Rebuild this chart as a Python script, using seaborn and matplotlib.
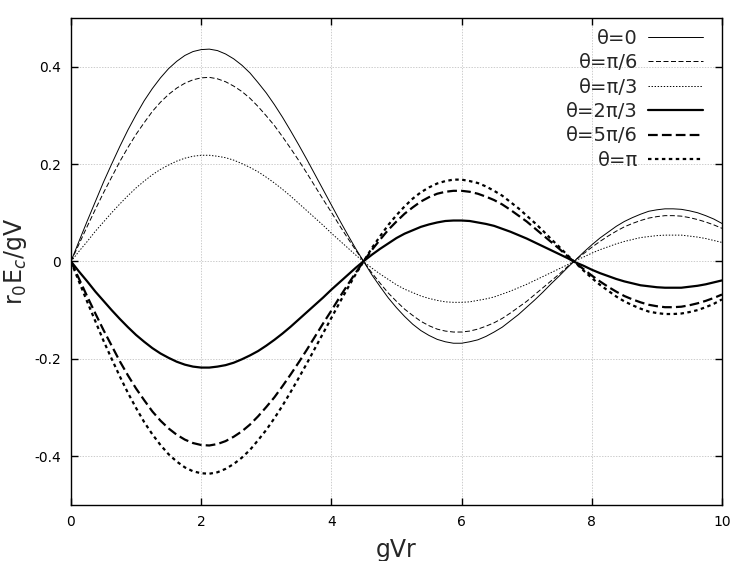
import numpy as np
import pandas as pd
import matplotlib
matplotlib.use("Agg")
import matplotlib.pyplot as plt
import seaborn as sns

# values, x step 0.125 from 0 to 10
gvr = np.linspace(0, 10, 81)

theta_0 = [0, 0.042, 0.083, 0.123, 0.163, 0.200, 0.236, 0.270, 0.301, 0.330,
           0.355, 0.377, 0.396, 0.411, 0.423, 0.431, 0.435, 0.436, 0.433, 0.426,
           0.416, 0.403, 0.387, 0.367, 0.346, 0.322, 0.296, 0.268, 0.239, 0.209,
           0.178, 0.147, 0.116, 0.085, 0.055, 0.026, -0.001, -0.028, -0.052, -0.075,
           -0.095, -0.113, -0.129, -0.142, -0.152, -0.160, -0.165, -0.168, -0.168, -0.165,
           -0.161, -0.154, -0.145, -0.135, -0.122, -0.109, -0.094, -0.079, -0.063, -0.046,
           -0.030, -0.013, 0.003, 0.019, 0.034, 0.048, 0.060, 0.072, 0.082, 0.090,
           0.097, 0.103, 0.106, 0.108, 0.108, 0.107, 0.104, 0.100, 0.094, 0.087, 0.078]
theta_pi6 = [0, 0.036, 0.072, 0.107, 0.141, 0.173, 0.205, 0.234, 0.261, 0.285,
             0.308, 0.327, 0.343, 0.356, 0.366, 0.373, 0.377, 0.378, 0.375, 0.369,
             0.360, 0.349, 0.335, 0.318, 0.299, 0.279, 0.256, 0.232, 0.207, 0.181,
             0.154, 0.127, 0.101, 0.074, 0.048, 0.023, -0.001, -0.024, -0.045, -0.065,
             -0.082, -0.098, -0.111, -0.123, -0.132, -0.139, -0.143, -0.145, -0.145, -0.143,
             -0.139, -0.133, -0.126, -0.117, -0.106, -0.094, -0.082, -0.068, -0.054, -0.040,
             -0.026, -0.011, 0.003, 0.016, 0.029, 0.041, 0.052, 0.062, 0.071, 0.078,
             0.084, 0.089, 0.092, 0.094, 0.094, 0.093, 0.090, 0.086, 0.081, 0.075, 0.068]
theta_pi3 = [0, 0.021, 0.041, 0.062, 0.081, 0.100, 0.118, 0.135, 0.151, 0.165,
             0.178, 0.189, 0.198, 0.206, 0.212, 0.216, 0.218, 0.218, 0.216, 0.213,
             0.208, 0.201, 0.193, 0.184, 0.173, 0.161, 0.148, 0.134, 0.119, 0.104,
             0.089, 0.074, 0.058, 0.043, 0.028, 0.013, -0.001, -0.014, -0.026, -0.037,
             -0.048, -0.057, -0.064, -0.071, -0.076, -0.080, -0.083, -0.084, -0.084, -0.083,
             -0.080, -0.077, -0.073, -0.067, -0.061, -0.054, -0.047, -0.039, -0.031, -0.023,
             -0.015, -0.007, 0.002, 0.009, 0.017, 0.024, 0.030, 0.036, 0.041, 0.045,
             0.049, 0.051, 0.053, 0.054, 0.054, 0.054, 0.052, 0.050, 0.047, 0.043, 0.039]
theta_2pi3 = [0, -0.021, -0.041, -0.062, -0.081, -0.100, -0.118, -0.135, -0.151, -0.165,
              -0.178, -0.189, -0.198, -0.206, -0.212, -0.216, -0.218, -0.218, -0.216, -0.213,
              -0.208, -0.201, -0.193, -0.184, -0.173, -0.161, -0.148, -0.134, -0.119, -0.104,
              -0.089, -0.074, -0.058, -0.043, -0.028, -0.013, 0.001, 0.014, 0.026, 0.037,
              0.048, 0.057, 0.064, 0.071, 0.076, 0.080, 0.083, 0.084, 0.084, 0.083,
              0.080, 0.077, 0.073, 0.067, 0.061, 0.054, 0.047, 0.039, 0.031, 0.023,
              0.015, 0.007, -0.002, -0.009, -0.017, -0.024, -0.030, -0.036, -0.041, -0.045,
              -0.049, -0.051, -0.053, -0.054, -0.054, -0.054, -0.052, -0.050, -0.047, -0.043, -0.039]
theta_5pi6 = [0, -0.036, -0.072, -0.107, -0.141, -0.173, -0.205, -0.234, -0.261, -0.285,
              -0.308, -0.327, -0.343, -0.356, -0.366, -0.373, -0.377, -0.378, -0.375, -0.369,
              -0.360, -0.349, -0.335, -0.318, -0.299, -0.279, -0.256, -0.232, -0.207, -0.181,
              -0.154, -0.127, -0.101, -0.074, -0.048, -0.023, 0.001, 0.024, 0.045, 0.065,
              0.082, 0.098, 0.111, 0.123, 0.132, 0.139, 0.143, 0.145, 0.145, 0.143,
              0.139, 0.133, 0.126, 0.117, 0.106, 0.094, 0.082, 0.068, 0.054, 0.040,
              0.026, 0.011, -0.003, -0.016, -0.029, -0.041, -0.052, -0.062, -0.071, -0.078,
              -0.084, -0.089, -0.092, -0.094, -0.094, -0.093, -0.090, -0.086, -0.081, -0.075, -0.068]
theta_pi = [0, -0.042, -0.083, -0.123, -0.163, -0.200, -0.236, -0.270, -0.301, -0.330,
            -0.355, -0.377, -0.396, -0.411, -0.423, -0.431, -0.435, -0.436, -0.433, -0.426,
            -0.416, -0.403, -0.387, -0.367, -0.346, -0.322, -0.296, -0.268, -0.239, -0.209,
            -0.178, -0.147, -0.116, -0.085, -0.055, -0.026, 0.001, 0.028, 0.052, 0.075,
            0.095, 0.113, 0.129, 0.142, 0.152, 0.160, 0.165, 0.168, 0.168, 0.165,
            0.161, 0.154, 0.145, 0.135, 0.122, 0.109, 0.094, 0.079, 0.063, 0.046,
            0.030, 0.013, -0.003, -0.019, -0.034, -0.048, -0.060, -0.072, -0.082, -0.090,
            -0.097, -0.103, -0.106, -0.108, -0.108, -0.107, -0.104, -0.100, -0.094, -0.087, -0.078]

labels = ["θ=0", "θ=π/6", "θ=π/3", "θ=2π/3", "θ=5π/6", "θ=π"]
series = [theta_0, theta_pi6, theta_pi3, theta_2pi3, theta_5pi6, theta_pi]
widths = [0.7, 0.7, 0.7, 1.6, 1.6, 1.6]
styles = ["-", (0, (3.6, 1.8)), (0, (1.0, 1.2)), "-", (0, (7, 3)), (0, (2.5, 2.5))]

sns.set_style("ticks")
plt.rcParams["font.family"] = ["DejaVu Sans"]
plt.rcParams["lines.scale_dashes"] = False

fig = plt.figure(figsize=(7.47, 5.61), dpi=100)
ax = fig.add_axes([0.095, 0.1, 0.8715, 0.868])

for lab, ys, lw, ls in zip(labels, series, widths, styles):
    sns.lineplot(x=gvr, y=ys, ax=ax, color="black", linewidth=lw, linestyle=ls, label=lab)

ax.set_xlim(0, 10)
ax.set_ylim(-0.5, 0.5)
ax.set_xticks([0, 2, 4, 6, 8, 10])
ax.set_xticklabels(["0", "2", "4", "6", "8", "10"])
ax.set_yticks([-0.4, -0.2, 0, 0.2, 0.4])
ax.set_yticklabels(["-0.4", "-0.2", "0", "0.2", "0.4"])
ax.grid(True, color="#b8b8b8", linestyle=(0, (1, 1)), linewidth=0.5)
ax.tick_params(direction="in", length=5, width=1, top=True, right=True,
               labelsize=10, pad=7, colors="black")
for sp in ax.spines.values():
    sp.set_linewidth(1.0)
    sp.set_color("black")

ax.set_xlabel("gVr", fontsize=17, labelpad=7)
ax.set_ylabel(r"r$_0$E$_c$/gV", fontsize=17, labelpad=4)

leg = ax.legend(loc="upper right", bbox_to_anchor=(0.983, 0.994), frameon=False,
                markerfirst=False, fontsize=14, handlelength=2.85, labelspacing=0.28,
                handletextpad=0.5, borderaxespad=0)

fig.savefig("out.png", dpi=100)
